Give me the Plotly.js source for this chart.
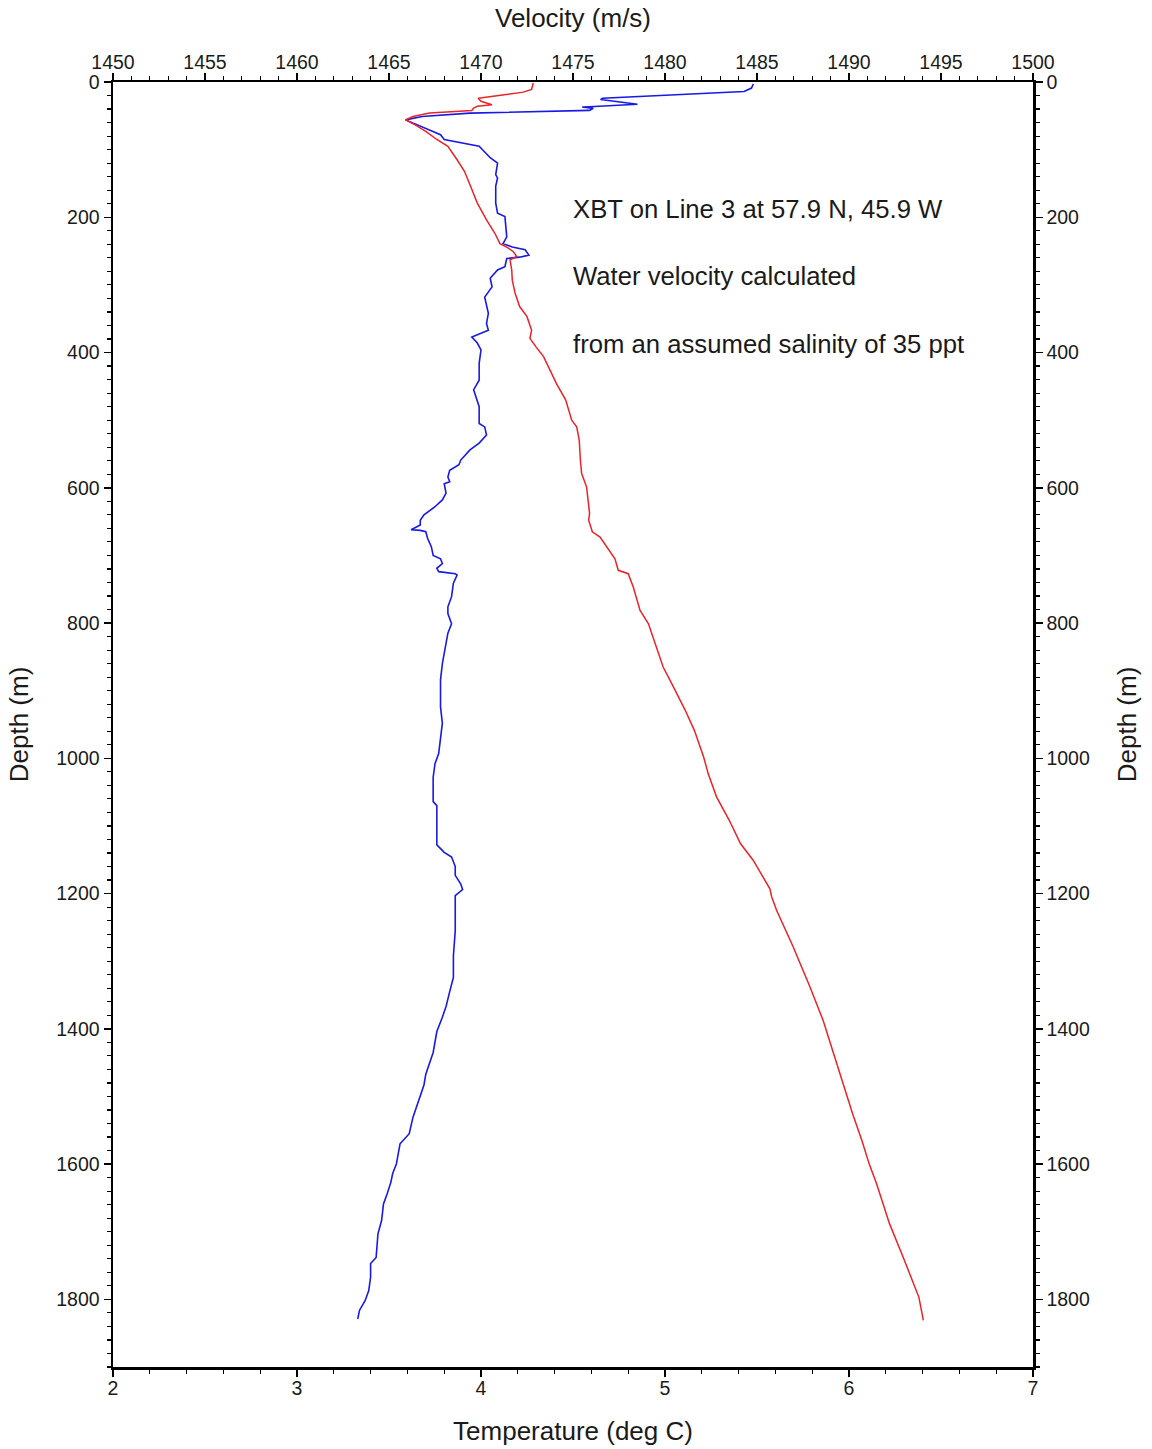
<!DOCTYPE html>
<html>
<head>
<meta charset="utf-8">
<script src="https://cdn.plot.ly/plotly-3.0.1.min.js"></script>
<style>
html,body{margin:0;padding:0;background:#fff;}
#chart{width:1152px;height:1449px;}
</style>
</head>
<body>
<div id="chart"></div>
<script>
// Temperature profile (blue, bottom axis): depth in m, temperature in deg C
const tempDepth = [3,9,14,24,26,30,33,36.5,37,39,42,46,51,56,65,78,85,95,112,120,137,142,154,179,194,199,229,239,244,248,256,259,261,273,278,290,303,318,342,357,367,377,386,396,416,441,455,463,480,505,510,522,534,544,559,566,574,584,591,594,608,618,628,640,648,655,662,663,665,675,687,700,705,712,719,724,727,729,741,761,776,786,801,815,845,860,884,924,948,973,993,1008,1028,1043,1064,1070,1112,1128,1139,1146,1160,1173,1186,1194,1203,1213,1229,1255,1292,1324,1345,1367,1383,1404,1435,1451,1467,1483,1499,1515,1531,1555,1570,1585,1600,1614,1627,1644,1659,1683,1703,1738,1747,1767,1787,1802,1816,1829];
const tempC = [5.48,5.47,5.43,4.66,4.65,4.77,4.85,4.59,4.55,4.61,4.59,3.94,3.68,3.59,3.67,3.78,3.80,3.99,4.05,4.09,4.08,4.09,4.08,4.08,4.09,4.13,4.14,4.12,4.17,4.24,4.26,4.21,4.14,4.13,4.09,4.05,4.06,4.02,4.04,4.03,4.04,3.95,3.98,4.00,3.99,3.99,3.96,3.97,3.99,3.99,4.02,4.03,3.99,3.94,3.89,3.88,3.83,3.82,3.83,3.80,3.81,3.79,3.75,3.69,3.67,3.67,3.62,3.67,3.70,3.71,3.73,3.74,3.78,3.79,3.76,3.77,3.86,3.87,3.85,3.84,3.82,3.82,3.84,3.82,3.80,3.79,3.78,3.78,3.79,3.78,3.77,3.75,3.74,3.74,3.74,3.76,3.76,3.76,3.80,3.84,3.86,3.86,3.89,3.90,3.86,3.86,3.86,3.86,3.85,3.85,3.83,3.81,3.79,3.76,3.74,3.72,3.70,3.69,3.67,3.65,3.63,3.61,3.56,3.55,3.54,3.52,3.51,3.49,3.47,3.46,3.44,3.43,3.40,3.40,3.39,3.37,3.34,3.33];

// Velocity profile (red, top axis): depth in m, velocity in m/s
const velDepth = [1.5,11,15,21,24,28.6,33.5,36,38.5,42,46,51,56,63,73,85,95,115,132,152,179,204,224,239,244,251,258,263,278,293,312,332,347,367,379,392,406,426,446,470,500,510,530,559,579,599,618,638,648,665,673,687,705,722,727,747,781,801,830,865,894,929,959,998,1023,1057,1092,1126,1151,1180,1193,1205,1225,1279,1338,1388,1466,1506,1526,1565,1600,1629,1688,1738,1797,1831];
const velocity = [1472.84,1472.75,1472.3,1470.5,1469.85,1470.0,1470.6,1469.8,1469.6,1469.5,1467.2,1466.3,1465.9,1466.4,1467.0,1467.6,1468.2,1468.7,1469.1,1469.4,1469.8,1470.3,1470.76,1471.03,1471.4,1471.76,1471.94,1471.58,1471.67,1471.7,1471.85,1472.1,1472.5,1472.75,1472.66,1473.0,1473.4,1473.75,1474.1,1474.6,1474.93,1475.2,1475.34,1475.4,1475.47,1475.74,1475.83,1475.9,1475.85,1476.05,1476.47,1476.83,1477.28,1477.46,1478.0,1478.28,1478.64,1479.1,1479.46,1479.9,1480.45,1481.1,1481.6,1482.1,1482.35,1482.8,1483.5,1484.1,1484.8,1485.4,1485.7,1485.8,1486.07,1486.97,1487.88,1488.6,1489.5,1489.96,1490.2,1490.7,1491.1,1491.5,1492.2,1492.95,1493.8,1494.04];

const tempRange = [2, 7];
const velRange = [1450, 1500];
const depthRange = [1900, 0];

const annotationLines = [
  "XBT on Line 3 at 57.9 N, 45.9 W",
  "Water velocity calculated",
  "from an assumed salinity of 35 ppt"
];

const FONT = "Liberation Sans, Arial, Helvetica, sans-serif";

const traces = [
  {x: tempC, y: tempDepth, xaxis: 'x', yaxis: 'y', type: 'scatter', mode: 'lines',
   line: {color: 'rgb(25,25,230)', width: 1.6}, name: 'Temperature', showlegend: false},
  {x: velocity, y: velDepth, xaxis: 'x2', yaxis: 'y2', type: 'scatter', mode: 'lines',
   line: {color: 'rgb(235,35,40)', width: 1.5}, name: 'Velocity', showlegend: false}
];

const axisCommon = {
  showgrid: false, zeroline: false, showline: true, linecolor: '#000', linewidth: 2.5,
  ticks: 'outside', ticklen: 7, tickwidth: 1.5, tickcolor: '#000',
  tickfont: {family: FONT, size: 19.5, color: '#1a1a1a'},
  fixedrange: true
};
const titleFont = {family: FONT, size: 26, color: '#1a1a1a'};

const layout = {
  width: 1152, height: 1449,
  margin: {l: 113, r: 119, t: 82, b: 82, pad: 0},
  paper_bgcolor: '#fff', plot_bgcolor: '#fff',
  font: {family: FONT, color: '#1a1a1a'},
  showlegend: false,
  xaxis: Object.assign({}, axisCommon, {
    range: tempRange, dtick: 1, tick0: 2, side: 'bottom', anchor: 'y',
    ticklabelstandoff: -5,
    minor: {dtick: 0.2, ticklen: 4, tickwidth: 1.2, tickcolor: '#000', ticks: 'outside'},
    title: {text: 'Temperature (deg C)', font: titleFont, standoff: 24}
  }),
  xaxis2: Object.assign({}, axisCommon, {
    range: velRange, dtick: 5, tick0: 1450, side: 'top', overlaying: 'x', anchor: 'y2',
    ticklabelstandoff: -4,
    minor: {dtick: 1, ticklen: 4, tickwidth: 1.2, tickcolor: '#000', ticks: 'outside'},
    title: {text: 'Velocity (m/s)', font: titleFont, standoff: 16}
  }),
  yaxis: Object.assign({}, axisCommon, {
    range: depthRange, dtick: 200, tick0: 0, side: 'left', anchor: 'x',
    minor: {dtick: 20, ticklen: 4, tickwidth: 1.2, tickcolor: '#000', ticks: 'outside'},
    title: {text: 'Depth (m)', font: titleFont, standoff: 20}
  }),
  yaxis2: Object.assign({}, axisCommon, {
    range: depthRange, dtick: 200, tick0: 0, side: 'right', overlaying: 'y', anchor: 'x2',
    minor: {dtick: 20, ticklen: 4, tickwidth: 1.2, tickcolor: '#000', ticks: 'outside'},
    title: {text: 'Depth (m)', font: titleFont, standoff: 29}
  }),
  annotations: annotationLines.map((t, i) => ({
    text: t, xref: 'paper', yref: 'paper', x: 0.498, y: [0.9012, 0.849, 0.796][i],
    xanchor: 'left', yanchor: 'middle', showarrow: false,
    font: {family: FONT, size: 25.7, color: '#1a1a1a'}
  }))
};

Plotly.newPlot('chart', traces, layout, {displayModeBar: false, staticPlot: true});
</script>
</body>
</html>
